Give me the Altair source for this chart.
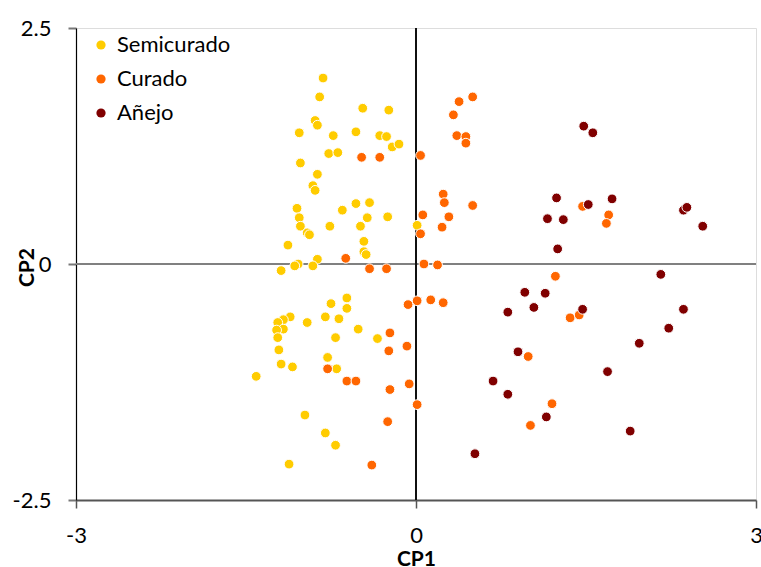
import altair as alt
import pandas as pd

# Principal component scores (CP1, CP2) per ripening class
semicurado_cp1 = [-0.82, -0.85, -0.47, -0.24, -0.89, -0.87, -1.03, -0.73, -0.53, -0.32,
                  -0.26, -0.21, -0.15, -0.77, -0.69, -1.02, -0.87, -0.91, -0.89, -1.05,
                  -1.03, -1.02, -0.96, -0.94, -0.76, -0.65, -0.53, -0.41, -0.43, -0.49,
                  -0.25, -0.46, -0.46, -0.44, -1.13, -0.87, -0.91, -1.04, -1.07, -1.19,
                  0.01, -0.61, -0.61, -0.75, -1.11, -1.17, -1.22, -0.96, -0.80, -0.68,
                  -1.17, -1.23, -0.51, -1.22, -0.71, -0.34, -1.21, -0.78, -1.19, -1.09,
                  -0.70, -1.41, -0.98, -0.80, -0.71, -1.12]
semicurado_cp2 = [1.97, 1.77, 1.65, 1.63, 1.52, 1.47, 1.39, 1.36, 1.40, 1.36,
                  1.35, 1.24, 1.27, 1.17, 1.18, 1.07, 0.95, 0.83, 0.78, 0.59,
                  0.49, 0.40, 0.33, 0.31, 0.40, 0.57, 0.64, 0.65, 0.49, 0.40,
                  0.50, 0.24, 0.13, 0.10, 0.20, 0.05, -0.02, 0.00, -0.02, -0.07,
                  0.41, -0.36, -0.47, -0.42, -0.56, -0.59, -0.62, -0.62, -0.56, -0.58,
                  -0.69, -0.70, -0.69, -0.78, -0.78, -0.79, -0.91, -0.99, -1.06, -1.09,
                  -1.11, -1.19, -1.60, -1.79, -1.92, -2.12]

curado_cp1 = [-0.48, -0.32, 0.04, 0.06, 0.04, 0.07, -0.62, -0.41, -0.26,
              -0.07, 0.01, 0.13, 0.24, -0.23, -0.08, -0.24, -0.78, -0.61, -0.53,
              -0.23, -0.06, 0.01, -0.25, -0.39,
              0.50, 0.38, 0.33, 0.36, 0.44, 0.44, 0.24, 0.25, 0.50, 0.29, 0.23,
              0.19, 1.47, 1.70, 1.68, 1.23, 1.36, 1.44, 0.99, 1.20, 1.01]
curado_cp2 = [1.13, 1.13, 1.15, 0.52, 0.32, 0.00, 0.06, -0.05, -0.05,
              -0.43, -0.39, -0.38, -0.41, -0.73, -0.87, -0.92, -1.11, -1.24, -1.24,
              -1.33, -1.27, -1.49, -1.67, -2.13,
              1.77, 1.72, 1.58, 1.36, 1.35, 1.28, 0.74, 0.65, 0.62, 0.50, 0.39,
              -0.01, 0.61, 0.52, 0.43, -0.13, -0.57, -0.54, -0.98, -1.48, -1.71]

anejo_cp1 = [1.48, 1.56, 1.24, 1.52, 1.16, 1.30, 1.25, 1.73, 2.36, 2.39, 2.53, 2.16,
             0.96, 1.14, 1.04, 0.81, 1.47, 0.90, 0.68, 0.81, 1.15, 0.52,
             2.36, 2.23, 1.97, 1.69, 1.89]
anejo_cp2 = [1.46, 1.39, 0.70, 0.63, 0.48, 0.47, 0.16, 0.69, 0.57, 0.60, 0.40, -0.11,
             -0.30, -0.31, -0.46, -0.51, -0.48, -0.93, -1.24, -1.38, -1.62, -2.01,
             -0.48, -0.68, -0.84, -1.14, -1.77]

groups = ["Semicurado", "Curado", "Añejo"]
colors = ["#FFCC00", "#FF6600", "#800000"]
x_ticks = [-3, 0, 3]
y_ticks = [-2.5, 0, 2.5]

frames = []
for order, (name, xs, ys) in enumerate([
    ("Semicurado", semicurado_cp1, semicurado_cp2),
    ("Curado", curado_cp1, curado_cp2),
    ("Añejo", anejo_cp1, anejo_cp2),
]):
    frames.append(pd.DataFrame({"CP1": xs, "CP2": ys, "Tipo": name, "orden": order}))
df = pd.concat(frames, ignore_index=True)

FONT = "Lato"
# plain hyphen-minus for negative tick labels
LABEL_EXPR = "datum.value < 0 ? '-' + format(-datum.value, '~g') : format(datum.value, '~g')"

x_scale = alt.Scale(domain=[-3, 3], nice=False, zero=False)
y_scale = alt.Scale(domain=[-2.5, 2.5], nice=False, zero=False)

points = alt.Chart(df).mark_point(
    filled=True, shape="circle", size=95, stroke="white", strokeWidth=1, opacity=1
).encode(
    x=alt.X("CP1:Q", scale=x_scale, axis=alt.Axis(
        values=x_ticks, grid=False, title="CP1", tickSize=8, labelPadding=17,
        labelFontSize=22, labelFont=FONT, labelColor="#000", labelExpr=LABEL_EXPR,
        titleFont=FONT, titleFontSize=21, titleFontWeight="bold", titleColor="#000",
        titleBaseline="alphabetic", titleY=65, titleX=340,
        domainColor="#555", domainWidth=2, tickColor="#555", tickWidth=1.5,
        labelFlush=False,
    )),
    y=alt.Y("CP2:Q", scale=y_scale, axis=alt.Axis(
        values=y_ticks, grid=False, title="CP2", tickSize=8, labelPadding=17,
        labelFontSize=22, labelFont=FONT, labelColor="#000", labelExpr=LABEL_EXPR,
        titleFont=FONT, titleFontSize=21, titleFontWeight="bold", titleColor="#000",
        titleAngle=270, titleBaseline="alphabetic", titleX=-43, titleY=239,
        domainColor="#000", domainWidth=1.2, tickColor="#777", tickWidth=2,
        labelFlush=False,
    )),
    color=alt.Color("Tipo:N", scale=alt.Scale(domain=groups, range=colors),
                    legend=alt.Legend(
                        title=None, orient="none", legendX=14, legendY=6,
                        symbolType="circle", symbolSize=85, symbolStrokeWidth=0,
                        symbolOpacity=1, labelFont=FONT, labelFontSize=22,
                        labelColor="#000", labelOffset=5, rowPadding=12, padding=0,
                    )),
    order=alt.Order("orden:Q"),
)

# Reference lines through the origin
vline = alt.Chart(df).mark_rule(color="#111", strokeWidth=1).encode(x=alt.datum(0))
hline = alt.Chart(df).mark_rule(color="#808080", strokeWidth=1.5).encode(y=alt.datum(0))

chart = alt.layer(hline, vline, points).properties(
    width=680, height=472,
    autosize=alt.AutoSizeParams(type="none"),
    padding={"left": 76, "top": 28, "right": 5, "bottom": 67},
).configure_view(
    stroke="#7f7f7f", strokeWidth=2
).configure(background="white")

chart.save("out.html", embed_options={"renderer": "svg", "actions": False})
